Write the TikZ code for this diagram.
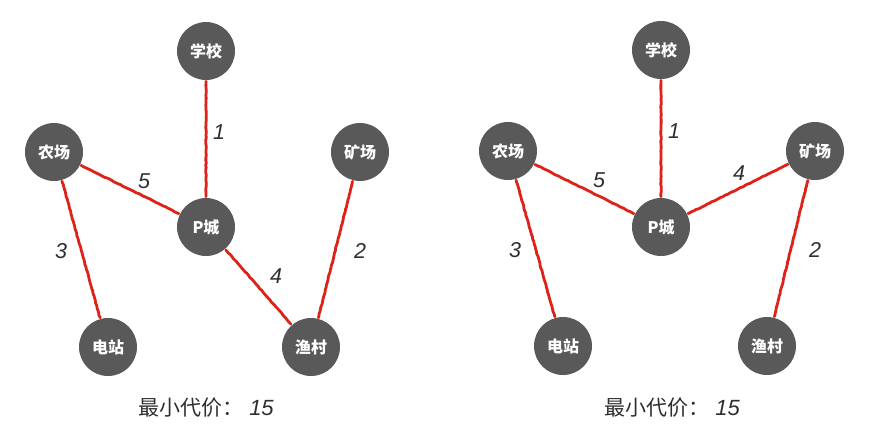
\documentclass[tikz,border=0pt]{standalone}
\usepackage{fontspec}
\setmainfont{Liberation Sans}
\newfontfamily\cjk{Noto Sans CJK SC}
\newfontfamily\numf{Liberation Sans}
\usetikzlibrary{decorations.pathmorphing}
\definecolor{nodegray}{HTML}{595959}
\definecolor{roadred}{HTML}{DC2219}
\definecolor{textgray}{HTML}{2E2E2E}
\tikzset{
  city/.style={circle, fill=nodegray, minimum size=58pt, inner sep=0pt, text=white,
    font=\cjk\bfseries\fontsize{16}{16}\selectfont},
  road/.style={draw=roadred, line width=2.8pt, line join=round, line cap=round,
    shorten <=1pt, shorten >=1pt, decorate,
    decoration={random steps, segment length=2.5pt, amplitude=0.3pt}},
  weight/.style={font=\numf\itshape\fontsize{21.5}{21.5}\selectfont, text=textgray, inner sep=0pt},
  cost/.style={font=\cjk\fontsize{21}{21}\selectfont, text=textgray, inner sep=0pt}
}
\begin{document}
\begin{tikzpicture}[x=1pt,y=-1pt]
\pgfmathsetseed{7}
\useasboundingbox (0,0) rectangle (874,429);
% left graph
\node[city] (xxL) at (206,51) {学校};
\node[city] (ncL) at (54,152) {农场};
\node[city] (kcL) at (360,152) {矿场};
\node[city] (pcL) at (206,227) {P城};
\node[city] (dzL) at (108,347) {电站};
\node[city] (ycL) at (311,347) {渔村};
\draw[road] (xxL) -- (pcL);
\draw[road] (ncL) -- (pcL);
\draw[road] (ncL) -- (dzL);
\draw[road] (pcL) -- (ycL);
\draw[road] (kcL) -- (ycL);
\node[weight] (w1L) at (219,132) {1};
\node[weight] (w5L) at (144,181) {5};
\node[weight] (w3L) at (61,251) {3};
\node[weight] (w2L) at (360,251) {2};
\node[weight] (w4L) at (276,276) {4};
\node[cost] (costL) at (206,408) {最小代价：\hspace{6pt}{\numf\itshape\fontsize{22}{22}\selectfont 15}};
% right graph
\node[city] (xxR) at (661,50) {学校};
\node[city] (ncR) at (508,151) {农场};
\node[city] (kcR) at (815,151) {矿场};
\node[city] (pcR) at (661,227) {P城};
\node[city] (dzR) at (563,346) {电站};
\node[city] (ycR) at (767,346) {渔村};
\draw[road] (xxR) -- (pcR);
\draw[road] (ncR) -- (pcR);
\draw[road] (ncR) -- (dzR);
\draw[road] (pcR) -- (kcR);
\draw[road] (kcR) -- (ycR);
\node[weight] (w1R) at (674,131) {1};
\node[weight] (w5R) at (599,180) {5};
\node[weight] (w4R) at (739,173) {4};
\node[weight] (w3R) at (515,250) {3};
\node[weight] (w2R) at (815,250) {2};
\node[cost] (costR) at (672,408) {最小代价：\hspace{6pt}{\numf\itshape\fontsize{22}{22}\selectfont 15}};
\end{tikzpicture}
\end{document}
